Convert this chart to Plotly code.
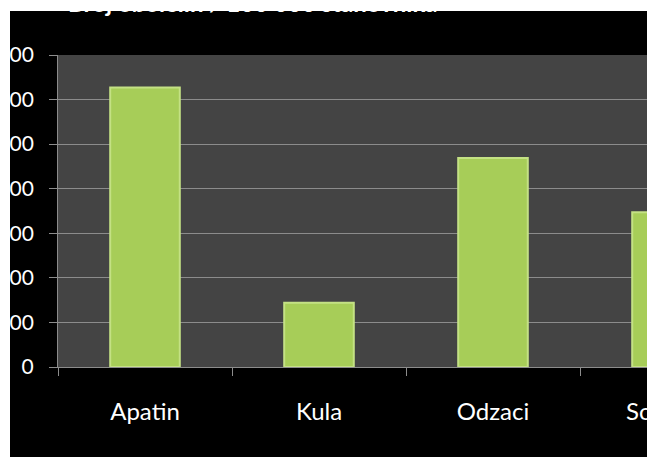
import plotly.graph_objects as go

# ---- data ----
categories = ["Apatin", "Kula", "Odzaci", "Sombor"]
values = [627, 144, 469, 347]
y_ticks = [0, 100, 200, 300, 400, 500, 600, 700]
title_text = "Broj obolelih / 100 000 stanovnika"

# ---- layout constants (pixels, figure starts 10px right / 11px down) ----
OFF_X, OFF_Y = 10, 11
W, H = 750, 446
ML, MT, MB = 48, 44, 90
CAT_PX = 174
PW = CAT_PX * len(categories)
MR = W - ML - PW
PH = H - MT - MB

FONT = "Lato"
GRID = "#8c8c8c"


def px_x(px):
    return (px - ML) / PW


def px_y(py):
    return (H - MB - py) / PH


fig = go.Figure(
    go.Bar(
        x=categories,
        y=values,
        width=0.4,
        marker=dict(color="#a7cd58", line=dict(color="#c4e184", width=2)),
        hoverinfo="skip",
    )
)

fig.update_layout(
    width=W,
    height=H,
    margin=dict(l=ML, r=MR, t=MT, b=MB, autoexpand=False),
    paper_bgcolor="#000000",
    plot_bgcolor="#444444",
    showlegend=False,
    annotations=[
        dict(
            text=title_text,
            font=dict(family=FONT, size=24, color="white", weight="bold"),
            xref="paper", yref="paper",
            x=px_x(243), y=px_y(8.5),
            xanchor="center", yanchor="bottom",
            showarrow=False,
        )
    ],
)

fig.update_yaxes(
    range=[0, 700],
    tickvals=y_ticks,
    showgrid=True,
    gridcolor=GRID,
    gridwidth=1,
    zeroline=False,
    showline=True,
    linecolor=GRID,
    linewidth=1,
    ticks="outside",
    ticklen=8,
    tickcolor=GRID,
    tickfont=dict(family=FONT, size=21, color="white"),
    ticklabelstandoff=11,
)

fig.update_xaxes(
    type="category",
    range=[-0.5, len(categories) - 0.5],
    tickson="boundaries",
    showgrid=False,
    showline=True,
    linecolor=GRID,
    linewidth=1,
    ticks="outside",
    ticklen=8,
    tickcolor=GRID,
    tickfont=dict(family=FONT, size=24, color="white"),
    ticklabelstandoff=23,
)

fig.write_html(
    "out.html",
    config={"displayModeBar": False},
    post_script=(
        "document.body.style.margin='%dpx 0 0 %dpx';"
        "document.body.style.overflow='hidden';"
        "document.body.style.background='white';" % (OFF_Y, OFF_X)
    ),
)
